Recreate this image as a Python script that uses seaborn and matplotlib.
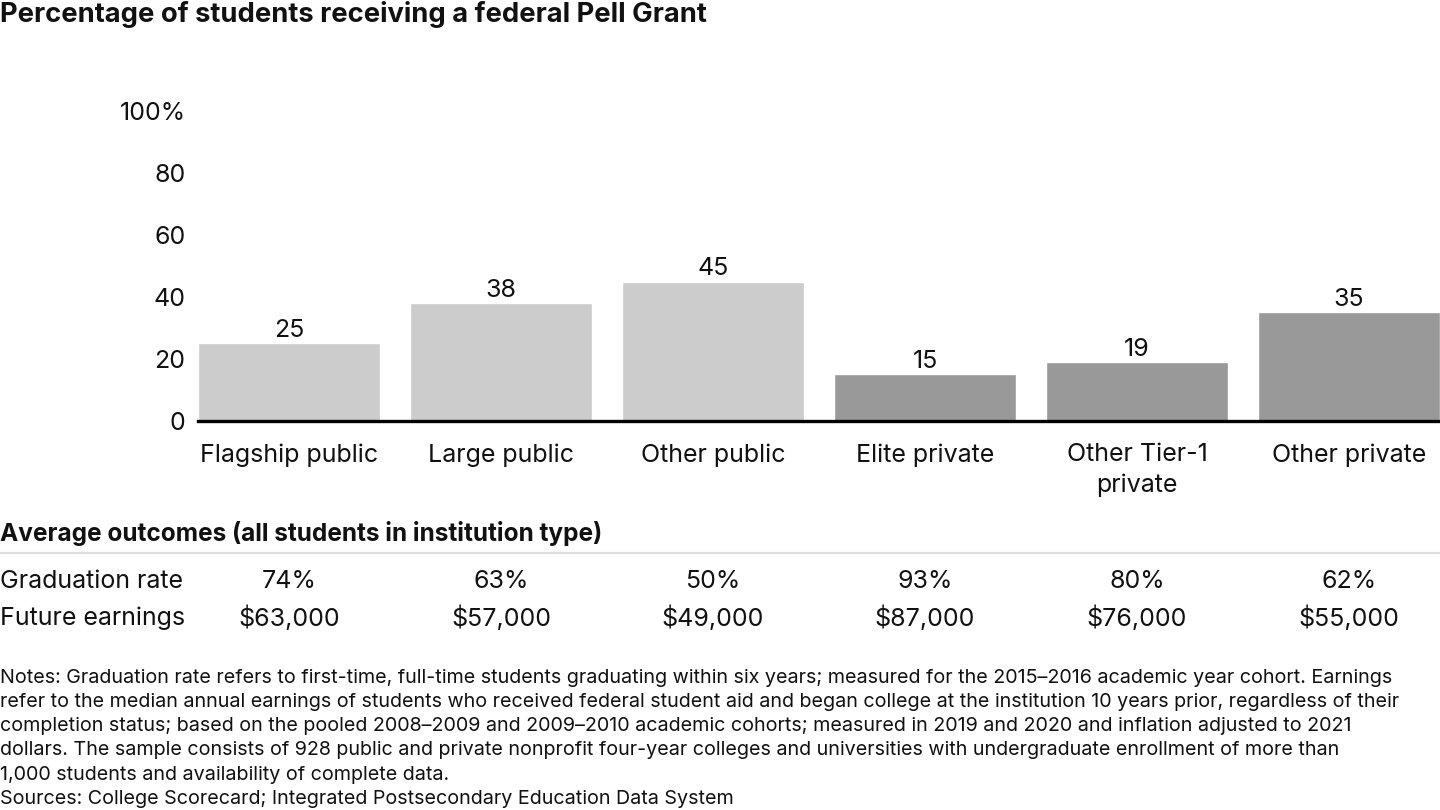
import matplotlib
matplotlib.use("Agg")
import matplotlib.pyplot as plt
import matplotlib.transforms as mtransforms
import seaborn as sns
import pandas as pd

categories = ["Flagship public", "Large public", "Other public",
              "Elite private", "Other Tier-1\nprivate", "Other private"]
pell_pct = [25, 38, 45, 15, 19, 35]
bar_colors = ["#cccccc", "#cccccc", "#cccccc", "#999999", "#999999", "#999999"]
grad_rate = ["74%", "63%", "50%", "93%", "80%", "62%"]
earnings = ["$63,000", "$57,000", "$49,000", "$87,000", "$76,000", "$55,000"]
y_ticks = [0, 20, 40, 60, 80, 100]
y_tick_labels = ["0", "20", "40", "60", "80", "100%"]

title = "Percentage of students receiving a federal Pell Grant"
table_title = "Average outcomes (all students in institution type)"
row_labels = ["Graduation rate", "Future earnings"]
notes = ("Notes: Graduation rate refers to first-time, full-time students graduating within six years; measured for the 2015\u20132016 academic year cohort. Earnings\n"
         "refer to the median annual earnings of students who received federal student aid and began college at the institution 10 years prior, regardless of their\n"
         "completion status; based on the pooled 2008\u20132009 and 2009\u20132010 academic cohorts; measured in 2019 and 2020 and inflation adjusted to 2021\n"
         "dollars. The sample consists of 928 public and private nonprofit four-year colleges and universities with undergraduate enrollment of more than\n"
         "1,000 students and availability of complete data.\n"
         "Sources: College Scorecard; Integrated Postsecondary Education Data System")

sns.set_theme(style="white")
plt.rcParams["font.family"] = ["Inter", "DejaVu Sans"]
plt.rcParams["text.color"] = "#111111"

df = pd.DataFrame({"cat": categories, "val": pell_pct})

W, H = 1440, 810
FS = 18
fig = plt.figure(figsize=(14.4, 8.1), dpi=100)
ax = fig.add_axes([198 / W, 1 - 421 / H, 1 - 198 / W, (421 - 111) / H])

sns.barplot(data=df, x="cat", y="val", hue="cat", palette=bar_colors,
            width=0.858, legend=False, ax=ax, saturation=1)
ax.set_xlim(-0.429, 5.429)
ax.set_ylim(0, 100)
ax.set_xlabel("")
ax.set_ylabel("")
ax.set_yticks(y_ticks)
ax.set_yticklabels(y_tick_labels)
ax.tick_params(axis="y", length=0, pad=9, labelsize=FS, labelcolor="#111111")
ax.tick_params(axis="x", length=0, pad=16, labelsize=FS, labelcolor="#111111")
for lab in ax.get_xticklabels():
    lab.set_linespacing(1.4)
for s in ["top", "right", "left"]:
    ax.spines[s].set_visible(False)
ax.spines["bottom"].set_color("#000000")
ax.spines["bottom"].set_linewidth(2.4)
ax.grid(False)
for c in ax.containers:
    ax.bar_label(c, padding=1, fontsize=FS, color="#111111")

fig.text(0, 1 - 15 / H, title, fontsize=19.7, fontweight="bold",
         ha="left", va="center")
fig.text(0, 1 - 534 / H, table_title, fontsize=17.6, fontweight="bold",
         ha="left", va="center")
fig.add_artist(plt.Line2D([0, 1], [1 - 553 / H, 1 - 553 / H],
                          transform=fig.transFigure, color="#dddddd", lw=1.6))

trans = mtransforms.blended_transform_factory(ax.transData, fig.transFigure)
row_y = [1 - 581 / H, 1 - 618 / H]
for lbl, y in zip(row_labels, row_y):
    fig.text(0, y, lbl, fontsize=FS, ha="left", va="center")
for i, (g, e) in enumerate(zip(grad_rate, earnings)):
    fig.text(i, row_y[0], g, transform=trans, fontsize=FS, ha="center", va="center")
    fig.text(i, row_y[1], e, transform=trans, fontsize=FS, ha="center", va="center")

fig.text(0, 1 - 669 / H, notes, fontsize=14.2, ha="left", va="top",
         linespacing=1.44)

fig.savefig("out.png", dpi=100)
